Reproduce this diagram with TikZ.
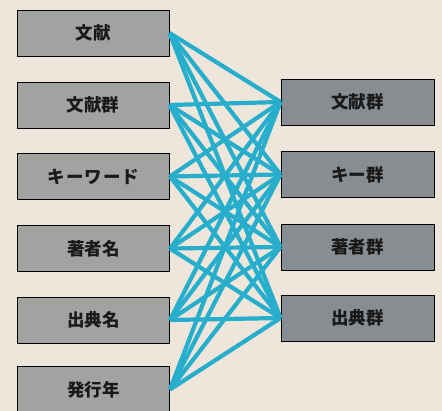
\documentclass[tikz,border=0pt]{standalone}
\usepackage{fontspec}
\newfontfamily\jp{Noto Sans CJK JP Black}
\definecolor{paper}{RGB}{238,230,219}
\definecolor{lbox}{RGB}{162,162,160}
\definecolor{rbox}{RGB}{136,141,146}
\definecolor{link}{RGB}{38,174,204}
\tikzset{
  lnode/.style={draw=black, line width=0.9pt, fill=lbox, minimum width=152pt, minimum height=46pt, inner sep=0pt, font=\jp\fontsize{17.5}{17.5}\selectfont, text=black!90},
  rnode/.style={lnode, fill=rbox, minimum width=153pt},
  linkline/.style={draw=link, line width=4.2pt}
}
\begin{document}
\begin{tikzpicture}[x=1pt,y=-1pt]
\fill[paper] (0,0) rectangle (442,411);
\useasboundingbox (0,0) rectangle (442,411);
\node[lnode] (l1) at (93,33) {文献};
\node[lnode] (l2) at (93,105) {文献群};
\node[lnode] (l3) at (93.5,176.5) {キ\kern1ptー\kern1ptワ\kern1ptー\kern1ptド};
\node[lnode] (l4) at (93.5,248.5) {著者名};
\node[lnode] (l5) at (93.5,320) {出典名};
\node[lnode] (l6) at (93.5,389.5) {発行年};
\node[rnode] (r1) at (357.5,102) {文献群};
\node[rnode] (r2) at (357.5,174.5) {キー群};
\node[rnode] (r3) at (357.5,247) {著者群};
\node[rnode] (r4) at (357.5,318) {出典群};
\foreach \l in {l1,l2,l3,l4,l5,l6}{
  \foreach \r in {r1,r2,r3,r4}{
    \draw[linkline] (\l.east) -- (\r.west);
  }
}
\end{tikzpicture}
\end{document}
